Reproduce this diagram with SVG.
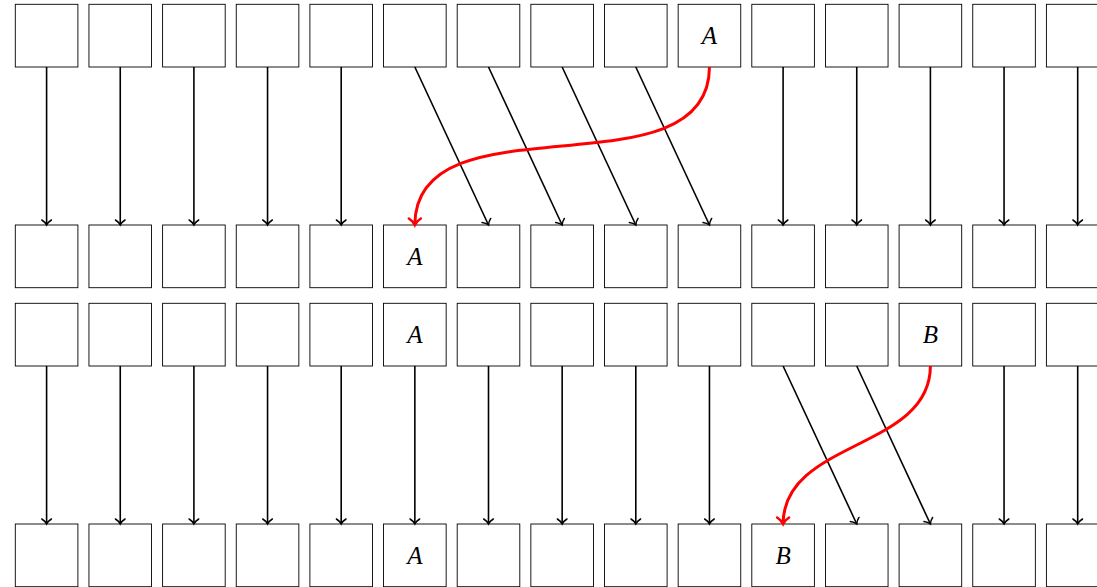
<svg xmlns="http://www.w3.org/2000/svg" width="1097" height="587" viewBox="0 0 1097 587">
<style>
.box{fill:#fff;stroke:#000;stroke-width:0.9}
.lbl{font-family:"Liberation Serif",serif;font-style:italic;font-size:25px;text-anchor:middle;fill:#000}
.arr{fill:none;stroke:#000;stroke-width:1.6;marker-end:url(#ah)}
.red{fill:none;stroke:#f00;stroke-width:3;marker-end:url(#ahr)}
</style>
<defs>
<marker id="ah" markerUnits="userSpaceOnUse" orient="auto" overflow="visible" refX="0" refY="0" markerWidth="12" markerHeight="12">
<path d="M-5,-4.8 C-3,-1.6 -0.8,-0.4 0,0 C-0.8,0.4 -3,1.6 -5,4.8" fill="none" stroke="#000" stroke-width="1.5" stroke-linecap="round"/>
</marker>
<marker id="ahr" markerUnits="userSpaceOnUse" orient="auto" overflow="visible" refX="0" refY="0" markerWidth="14" markerHeight="14">
<path d="M-6.5,-6 C-4,-2 -1,-0.5 0,0 C-1,0.5 -4,2 -6.5,6" fill="none" stroke="#f00" stroke-width="2.6" stroke-linecap="round"/>
</marker>
</defs>
<rect width="1097" height="587" fill="#fff"/>
<g id="row1">
<g id="r1c0"><rect class="box" x="15.3" y="4.3" width="62.6" height="62.7"/></g>
<g id="r1c1"><rect class="box" x="88.95" y="4.3" width="62.6" height="62.7"/></g>
<g id="r1c2"><rect class="box" x="162.6" y="4.3" width="62.6" height="62.7"/></g>
<g id="r1c3"><rect class="box" x="236.25" y="4.3" width="62.6" height="62.7"/></g>
<g id="r1c4"><rect class="box" x="309.9" y="4.3" width="62.6" height="62.7"/></g>
<g id="r1c5"><rect class="box" x="383.55" y="4.3" width="62.6" height="62.7"/></g>
<g id="r1c6"><rect class="box" x="457.2" y="4.3" width="62.6" height="62.7"/></g>
<g id="r1c7"><rect class="box" x="530.85" y="4.3" width="62.6" height="62.7"/></g>
<g id="r1c8"><rect class="box" x="604.5" y="4.3" width="62.6" height="62.7"/></g>
<g id="r1c9"><rect class="box" x="678.15" y="4.3" width="62.6" height="62.7"/><text class="lbl" x="709.45" y="44">A</text></g>
<g id="r1c10"><rect class="box" x="751.8" y="4.3" width="62.6" height="62.7"/></g>
<g id="r1c11"><rect class="box" x="825.45" y="4.3" width="62.6" height="62.7"/></g>
<g id="r1c12"><rect class="box" x="899.1" y="4.3" width="62.6" height="62.7"/></g>
<g id="r1c13"><rect class="box" x="972.75" y="4.3" width="62.6" height="62.7"/></g>
<g id="r1c14"><rect class="box" x="1046.4" y="4.3" width="62.6" height="62.7"/></g>
</g>
<g id="row2">
<g id="r2c0"><rect class="box" x="15.3" y="225" width="62.6" height="62.7"/></g>
<g id="r2c1"><rect class="box" x="88.95" y="225" width="62.6" height="62.7"/></g>
<g id="r2c2"><rect class="box" x="162.6" y="225" width="62.6" height="62.7"/></g>
<g id="r2c3"><rect class="box" x="236.25" y="225" width="62.6" height="62.7"/></g>
<g id="r2c4"><rect class="box" x="309.9" y="225" width="62.6" height="62.7"/></g>
<g id="r2c5"><rect class="box" x="383.55" y="225" width="62.6" height="62.7"/><text class="lbl" x="414.85" y="264.7">A</text></g>
<g id="r2c6"><rect class="box" x="457.2" y="225" width="62.6" height="62.7"/></g>
<g id="r2c7"><rect class="box" x="530.85" y="225" width="62.6" height="62.7"/></g>
<g id="r2c8"><rect class="box" x="604.5" y="225" width="62.6" height="62.7"/></g>
<g id="r2c9"><rect class="box" x="678.15" y="225" width="62.6" height="62.7"/></g>
<g id="r2c10"><rect class="box" x="751.8" y="225" width="62.6" height="62.7"/></g>
<g id="r2c11"><rect class="box" x="825.45" y="225" width="62.6" height="62.7"/></g>
<g id="r2c12"><rect class="box" x="899.1" y="225" width="62.6" height="62.7"/></g>
<g id="r2c13"><rect class="box" x="972.75" y="225" width="62.6" height="62.7"/></g>
<g id="r2c14"><rect class="box" x="1046.4" y="225" width="62.6" height="62.7"/></g>
</g>
<g id="row3">
<g id="r3c0"><rect class="box" x="15.3" y="303.3" width="62.6" height="62.7"/></g>
<g id="r3c1"><rect class="box" x="88.95" y="303.3" width="62.6" height="62.7"/></g>
<g id="r3c2"><rect class="box" x="162.6" y="303.3" width="62.6" height="62.7"/></g>
<g id="r3c3"><rect class="box" x="236.25" y="303.3" width="62.6" height="62.7"/></g>
<g id="r3c4"><rect class="box" x="309.9" y="303.3" width="62.6" height="62.7"/></g>
<g id="r3c5"><rect class="box" x="383.55" y="303.3" width="62.6" height="62.7"/><text class="lbl" x="414.85" y="343">A</text></g>
<g id="r3c6"><rect class="box" x="457.2" y="303.3" width="62.6" height="62.7"/></g>
<g id="r3c7"><rect class="box" x="530.85" y="303.3" width="62.6" height="62.7"/></g>
<g id="r3c8"><rect class="box" x="604.5" y="303.3" width="62.6" height="62.7"/></g>
<g id="r3c9"><rect class="box" x="678.15" y="303.3" width="62.6" height="62.7"/></g>
<g id="r3c10"><rect class="box" x="751.8" y="303.3" width="62.6" height="62.7"/></g>
<g id="r3c11"><rect class="box" x="825.45" y="303.3" width="62.6" height="62.7"/></g>
<g id="r3c12"><rect class="box" x="899.1" y="303.3" width="62.6" height="62.7"/><text class="lbl" x="930.4" y="343">B</text></g>
<g id="r3c13"><rect class="box" x="972.75" y="303.3" width="62.6" height="62.7"/></g>
<g id="r3c14"><rect class="box" x="1046.4" y="303.3" width="62.6" height="62.7"/></g>
</g>
<g id="row4">
<g id="r4c0"><rect class="box" x="15.3" y="524" width="62.6" height="62.7"/></g>
<g id="r4c1"><rect class="box" x="88.95" y="524" width="62.6" height="62.7"/></g>
<g id="r4c2"><rect class="box" x="162.6" y="524" width="62.6" height="62.7"/></g>
<g id="r4c3"><rect class="box" x="236.25" y="524" width="62.6" height="62.7"/></g>
<g id="r4c4"><rect class="box" x="309.9" y="524" width="62.6" height="62.7"/></g>
<g id="r4c5"><rect class="box" x="383.55" y="524" width="62.6" height="62.7"/><text class="lbl" x="414.85" y="563.7">A</text></g>
<g id="r4c6"><rect class="box" x="457.2" y="524" width="62.6" height="62.7"/></g>
<g id="r4c7"><rect class="box" x="530.85" y="524" width="62.6" height="62.7"/></g>
<g id="r4c8"><rect class="box" x="604.5" y="524" width="62.6" height="62.7"/></g>
<g id="r4c9"><rect class="box" x="678.15" y="524" width="62.6" height="62.7"/></g>
<g id="r4c10"><rect class="box" x="751.8" y="524" width="62.6" height="62.7"/><text class="lbl" x="783.1" y="563.7">B</text></g>
<g id="r4c11"><rect class="box" x="825.45" y="524" width="62.6" height="62.7"/></g>
<g id="r4c12"><rect class="box" x="899.1" y="524" width="62.6" height="62.7"/></g>
<g id="r4c13"><rect class="box" x="972.75" y="524" width="62.6" height="62.7"/></g>
<g id="r4c14"><rect class="box" x="1046.4" y="524" width="62.6" height="62.7"/></g>
</g>
<g id="connectors">
<path class="arr" d="M46.6,67 L46.6,225"/>
<path class="arr" d="M120.25,67 L120.25,225"/>
<path class="arr" d="M193.9,67 L193.9,225"/>
<path class="arr" d="M267.55,67 L267.55,225"/>
<path class="arr" d="M341.2,67 L341.2,225"/>
<path class="arr" d="M414.85,67 L488.5,225"/>
<path class="arr" d="M488.5,67 L562.15,225"/>
<path class="arr" d="M562.15,67 L635.8,225"/>
<path class="arr" d="M635.8,67 L709.45,225"/>
<path class="arr" d="M783.1,67 L783.1,225"/>
<path class="arr" d="M856.75,67 L856.75,225"/>
<path class="arr" d="M930.4,67 L930.4,225"/>
<path class="arr" d="M1004.05,67 L1004.05,225"/>
<path class="arr" d="M1077.7,67 L1077.7,225"/>
<path class="red" d="M709.45,67 C709.45,198 414.85,94 414.85,225"/>
<path class="arr" d="M46.6,366 L46.6,524"/>
<path class="arr" d="M120.25,366 L120.25,524"/>
<path class="arr" d="M193.9,366 L193.9,524"/>
<path class="arr" d="M267.55,366 L267.55,524"/>
<path class="arr" d="M341.2,366 L341.2,524"/>
<path class="arr" d="M414.85,366 L414.85,524"/>
<path class="arr" d="M488.5,366 L488.5,524"/>
<path class="arr" d="M562.15,366 L562.15,524"/>
<path class="arr" d="M635.8,366 L635.8,524"/>
<path class="arr" d="M709.45,366 L709.45,524"/>
<path class="arr" d="M783.1,366 L856.75,524"/>
<path class="arr" d="M856.75,366 L930.4,524"/>
<path class="arr" d="M1004.05,366 L1004.05,524"/>
<path class="arr" d="M1077.7,366 L1077.7,524"/>
<path class="red" d="M930.4,366 C930.4,450 783.1,440 783.1,524"/>
</g>
</svg>
